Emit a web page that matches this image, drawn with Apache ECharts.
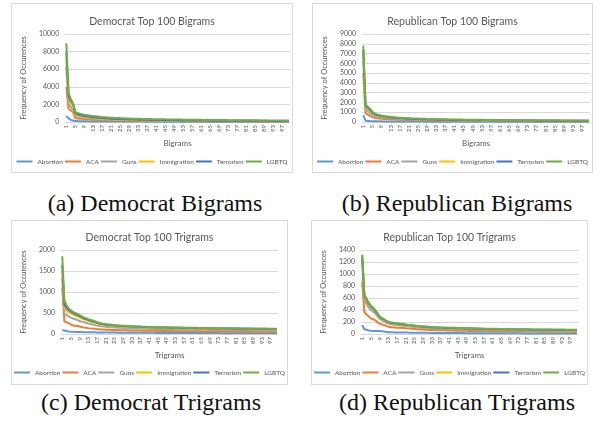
<!DOCTYPE html>
<html>
<head>
<meta charset="utf-8">
<script src="https://cdn.jsdelivr.net/npm/echarts@6/dist/echarts.min.js"></script>
<style>
  html, body { margin: 0; padding: 0; background: #ffffff; }
  body { width: 603px; height: 432px; position: relative; overflow: hidden; }
  .box { position: absolute; box-sizing: border-box; border: 1px solid #D9D9D9; background: #fff; }
  .cap { position: absolute; font-family: "Liberation Serif", "DejaVu Serif", serif; font-size: 24px; color: #111; text-align: center; white-space: nowrap; line-height: 1; }
</style>
</head>
<body>
<div id="ca" class="box" style="left:11px;top:3px;width:282px;height:170px;"></div>
<div id="cb" class="box" style="left:312px;top:3px;width:281px;height:170px;"></div>
<div id="cc" class="box" style="left:11px;top:220px;width:277px;height:165px;"></div>
<div id="cd" class="box" style="left:311px;top:220px;width:277px;height:165px;"></div>
<div class="cap" style="left:0px;width:310px;top:191px;">(a) Democrat Bigrams</div>
<div class="cap" style="left:302px;width:310px;top:191px;">(b) Republican Bigrams</div>
<div class="cap" style="left:0px;width:302px;top:390px;">(c) Democrat Trigrams</div>
<div class="cap" style="left:302px;width:310px;top:390px;">(d) Republican Trigrams</div>
<script>
// ---------- DATA ----------
const ranks = ['1','2','3','4','5','6','7','8','9','10','11','12','13','14','15','16','17','18','19','20',
'21','22','23','24','25','26','27','28','29','30','31','32','33','34','35','36','37','38','39','40',
'41','42','43','44','45','46','47','48','49','50','51','52','53','54','55','56','57','58','59','60',
'61','62','63','64','65','66','67','68','69','70','71','72','73','74','75','76','77','78','79','80',
'81','82','83','84','85','86','87','88','89','90','91','92','93','94','95','96','97','98','99','100'];
const topics = ['Abortion','ACA','Guns','Immigration','Terrorism','LGBTQ'];

// (a) Democrat bigrams
const demBiAbortion = [700,420,220,160,120,100,90,85,80,75,72,70,68,66,64,62,60,58,57,56,55,54,53,52,51,50,49,48,47,46,45,44,44,43,43,42,42,41,41,40,40,39,39,38,38,37,37,36,36,35,35,35,34,34,34,33,33,33,32,32,32,31,31,31,30,30,30,30,29,29,29,29,28,28,28,28,27,27,27,27,26,26,26,26,25,25,25,25,25,24,24,24,24,24,23,23,23,23,22,22];
const demBiACA = [4000,1500,1300,1100,450,400,380,360,340,320,300,280,265,250,240,230,220,210,200,195,190,185,180,175,170,165,160,156,152,148,145,142,139,136,133,130,128,126,124,122,120,118,116,114,112,110,108,106,105,104,103,102,101,100,99,98,97,96,95,94,93,92,91,90,89,88,87,86,85,84,84,83,82,81,80,80,79,78,77,77,76,75,75,74,73,73,72,71,71,70,70,69,69,68,68,67,67,66,66,65];
const demBiGuns = [6300,2000,1700,1400,700,620,560,520,490,460,430,410,390,370,350,335,320,305,295,285,275,265,258,250,243,236,230,224,218,212,207,202,198,194,190,186,182,178,175,172,169,166,163,160,157,154,152,150,148,146,144,142,140,138,136,134,132,130,129,128,127,126,125,124,123,122,121,120,119,118,117,116,115,114,113,112,111,110,109,108,107,106,105,104,103,102,101,100,99,98,97,96,95,94,93,92,91,90,89,88];
const demBiImmigration = [7200,2600,2100,1800,850,740,670,620,580,540,510,480,455,430,410,390,372,355,340,326,313,302,292,283,275,267,260,253,246,240,234,228,223,218,213,208,204,200,196,192,188,185,182,179,176,173,170,167,165,163,161,159,157,155,153,151,149,147,146,145,144,143,142,141,140,139,138,137,136,135,134,133,132,131,130,129,128,127,126,125,124,123,122,121,120,119,118,117,116,115,114,113,112,111,110,109,108,107,106,105];
const demBiTerrorism = [8000,2900,2400,2100,1000,880,800,740,690,650,610,580,550,520,495,470,450,430,412,396,381,367,354,342,331,321,311,302,294,286,279,272,265,259,253,247,242,237,232,227,222,218,214,210,206,202,198,195,192,189,186,183,180,177,175,173,171,169,167,165,163,161,159,157,155,153,151,150,149,148,147,146,145,144,143,142,141,140,139,138,137,136,135,134,133,132,131,130,129,128,127,126,125,124,123,122,121,120,119,118];
const demBiLGBTQ = [8950,3300,2600,2100,1150,1020,950,890,840,790,750,710,680,650,620,595,570,550,530,512,495,480,466,453,441,430,420,410,400,391,383,375,368,361,354,348,342,336,330,325,320,315,310,305,300,296,292,288,284,280,276,272,268,265,262,259,256,253,250,247,244,241,238,235,232,229,226,223,220,218,216,214,212,210,208,206,204,202,200,198,196,194,192,190,188,186,184,182,180,178,176,175,174,173,172,171,170,169,168,167];

// (b) Republican bigrams
const repBiAbortion = [700,150,110,95,85,78,72,68,64,61,58,56,54,52,50,49,48,47,46,45,44,43,42,41,40,40,39,38,38,37,37,36,36,35,35,34,34,33,33,33,32,32,32,31,31,31,30,30,30,29,29,29,29,28,28,28,28,27,27,27,27,26,26,26,26,25,25,25,25,25,24,24,24,24,24,23,23,23,23,23,22,22,22,22,22,21,21,21,21,21,20,20,20,20,20,19,19,19,19,19];
const repBiACA = [5000,900,750,620,500,430,390,360,335,315,298,283,270,258,247,237,228,220,212,205,198,192,186,181,176,171,167,163,159,155,152,149,146,143,140,137,135,133,131,129,127,125,123,121,119,117,115,113,112,111,110,109,108,107,106,105,104,103,102,101,100,99,98,97,96,95,94,93,92,91,90,89,88,87,86,86,85,84,83,83,82,81,81,80,79,79,78,77,77,76,76,75,75,74,74,73,73,72,72,71];
const repBiGuns = [6200,1300,1100,900,720,620,560,510,470,440,415,392,372,355,340,326,313,301,290,280,271,263,255,248,241,235,229,224,219,214,209,205,201,197,193,189,186,183,180,177,174,171,168,165,162,160,158,156,154,152,150,148,146,144,142,140,138,136,134,132,130,129,128,127,126,125,124,123,122,121,120,119,118,117,116,115,114,113,112,111,110,109,108,107,106,105,104,103,102,101,100,99,98,97,96,95,94,93,92,91];
const repBiImmigration = [7000,1600,1350,1150,900,760,680,620,570,530,495,465,440,418,398,380,364,350,337,325,314,304,295,286,278,270,263,256,250,244,238,233,228,223,218,214,210,206,202,198,195,192,189,186,183,180,177,175,173,171,169,167,165,163,161,159,157,155,153,151,150,149,148,147,146,145,144,143,142,141,140,139,138,137,136,135,134,133,132,131,130,129,128,127,126,125,124,123,122,121,120,119,118,117,116,115,114,113,112,111];
const repBiTerrorism = [7400,1700,1450,1250,950,800,710,650,600,560,525,495,468,445,424,405,388,372,358,345,333,322,312,303,294,286,278,271,264,258,252,246,241,236,231,226,222,218,214,210,206,203,200,197,194,191,188,185,182,180,178,176,174,172,170,168,166,164,162,160,158,156,154,153,152,151,150,149,148,147,146,145,144,143,142,141,140,139,138,137,136,135,134,133,132,131,130,129,128,127,126,125,124,123,122,121,120,119,118,117];
const repBiLGBTQ = [7800,1800,1550,1350,1050,880,780,710,660,620,585,555,528,504,482,462,444,428,413,400,388,377,367,357,348,340,332,325,318,311,305,299,293,288,283,278,273,268,264,260,256,252,248,245,242,239,236,233,230,227,224,221,218,215,212,210,208,206,204,202,200,198,196,194,192,190,188,186,185,184,183,182,181,180,179,178,177,176,175,174,173,172,171,170,169,168,167,166,165,164,163,162,161,160,159,158,157,156,155,154];

// (c) Democrat trigrams
const demTriAbortion = [90,85,70,60,55,52,50,48,46,45,44,43,42,41,40,39,38,37,36,36,35,35,34,34,33,33,32,32,31,31,30,30,30,29,29,29,28,28,28,27,27,27,27,26,26,26,26,25,25,25,25,24,24,24,24,24,23,23,23,23,23,22,22,22,22,22,22,21,21,21,21,21,21,20,20,20,20,20,20,20,19,19,19,19,19,19,19,18,18,18,18,18,18,18,17,17,17,17,17,17];
const demTriACA = [1100,300,280,260,230,200,195,190,180,165,155,148,140,134,128,123,118,114,110,107,104,101,99,97,95,93,91,90,89,88,87,86,85,84,83,82,81,80,79,78,77,76,75,75,74,73,72,72,71,70,70,69,68,68,67,67,66,66,65,65,64,64,63,63,62,62,61,61,60,60,60,59,59,58,58,58,57,57,57,56,56,56,55,55,55,54,54,54,53,53,53,52,52,52,51,51,51,50,50,50];
const demTriGuns = [1330,480,450,420,390,370,350,330,310,295,280,265,250,240,228,215,200,190,182,176,171,167,163,159,156,153,150,147,145,143,141,139,137,135,133,131,129,127,125,124,123,122,121,120,119,118,117,116,115,114,113,112,111,110,109,108,107,106,105,104,103,102,102,101,101,100,100,99,99,98,98,97,97,96,96,95,95,94,94,93,93,92,92,91,91,90,90,89,89,88,88,87,87,86,86,85,85,84,84,83];
const demTriImmigration = [1500,620,560,520,490,460,440,420,395,370,350,330,310,295,282,270,255,240,228,220,214,209,204,199,195,191,187,184,181,178,175,172,170,168,166,164,162,160,158,156,154,152,150,149,148,147,146,145,144,143,142,141,140,139,138,137,136,135,134,133,132,131,130,129,128,127,127,126,126,125,125,124,124,123,123,122,122,121,121,120,120,119,119,118,118,117,117,116,116,115,115,114,114,113,113,112,112,111,111,110];
const demTriTerrorism = [1650,700,620,570,530,500,475,450,425,400,375,355,335,318,302,288,270,255,242,233,226,220,215,210,205,201,197,193,190,187,184,181,178,176,174,172,170,168,166,164,162,160,158,157,156,155,154,153,152,151,150,149,148,147,146,145,144,143,142,141,140,139,138,137,136,135,134,133,133,132,132,131,131,130,130,129,129,128,128,127,127,126,126,125,125,124,124,123,123,122,122,121,121,120,120,119,119,118,118,117];
const demTriLGBTQ = [1850,800,680,610,560,530,500,480,450,420,395,375,355,338,322,305,285,268,255,245,237,230,224,218,213,208,204,200,197,194,191,188,185,183,181,179,177,175,173,171,169,167,166,165,164,163,162,161,160,159,158,157,156,155,154,153,152,151,150,149,148,147,146,145,144,143,142,141,141,140,140,139,139,138,138,137,137,136,136,135,135,134,134,133,133,132,132,131,131,130,130,129,129,128,128,127,127,126,126,125];

// (d) Republican trigrams
const repTriAbortion = [150,80,70,60,55,52,50,50,48,45,40,35,30,29,28,27,26,25,25,24,23,23,22,22,21,21,20,20,20,19,19,19,18,18,18,17,17,17,17,16,16,16,16,15,15,15,15,15,14,14,14,14,14,13,13,13,13,13,13,12,12,12,12,12,12,12,11,11,11,11,11,11,11,11,10,10,10,10,10,10,10,10,10,9,9,9,9,9,9,9,9,9,9,8,8,8,8,8,8,8];
const repTriACA = [870,360,330,290,260,245,230,200,170,160,150,135,122,118,114,110,106,103,100,98,96,93,90,87,84,81,78,76,74,72,70,68,67,66,65,64,63,62,61,60,59,58,57,56,55,55,54,53,53,52,52,51,51,50,50,49,49,48,48,47,47,46,46,45,45,45,44,44,44,43,43,43,42,42,42,41,41,41,40,40,40,40,39,39,39,38,38,38,38,37,37,37,37,36,36,36,36,35,35,35];
const repTriGuns = [1200,560,500,440,400,370,340,300,250,230,210,190,172,165,160,155,150,145,140,136,132,128,124,120,116,112,108,105,102,100,98,96,94,92,90,89,88,87,86,85,84,83,82,81,80,79,78,77,76,75,74,73,72,71,70,69,68,67,66,65,65,64,64,63,63,62,62,61,61,60,60,59,59,58,58,57,57,56,56,55,55,55,54,54,54,53,53,53,52,52,52,51,51,51,50,50,50,49,49,49];
const repTriImmigration = [1250,620,560,490,450,415,380,330,280,255,235,212,192,183,178,173,168,163,158,153,148,143,139,135,131,127,123,120,117,114,111,109,107,105,103,101,100,99,98,97,96,95,94,93,92,91,90,89,88,87,86,85,84,83,82,81,80,79,78,77,77,76,76,75,75,74,74,73,73,72,72,71,71,70,70,69,69,68,68,67,67,67,66,66,66,65,65,65,64,64,64,63,63,63,62,62,62,61,61,61];
const repTriTerrorism = [1290,635,575,505,460,425,390,340,288,262,242,218,198,189,183,178,173,168,163,158,153,148,144,140,136,132,128,125,122,119,116,114,112,110,108,106,104,103,102,101,100,99,98,97,96,95,94,93,92,91,90,89,88,87,86,85,84,83,82,81,81,80,80,79,79,78,78,77,77,76,76,75,75,74,74,73,73,72,72,71,71,71,70,70,70,69,69,69,68,68,68,67,67,67,66,66,66,65,65,65];
const repTriLGBTQ = [1320,650,590,520,475,440,400,350,295,270,250,225,205,196,190,185,180,175,170,165,160,155,150,146,142,138,134,131,128,125,122,120,118,116,114,112,110,109,108,107,106,105,104,103,102,101,100,99,98,97,96,95,94,93,92,91,90,89,88,87,87,86,86,85,85,84,84,83,83,82,82,81,81,80,80,79,79,78,78,77,77,77,76,76,76,75,75,75,74,74,74,73,73,73,72,72,72,71,71,71];

// ---------- STYLE / LAYOUT ----------
const colors = ['#5B9BD5','#ED7D31','#A5A5A5','#FFC000','#4472C4','#70AD47'];
const FONT = 'Lato, "Liberation Sans", sans-serif';
const TXT = '#595959';

function build(id, cfg) {
  const chart = echarts.init(document.getElementById(id), null, {renderer: 'canvas'});
  const series = cfg.data.map((d, i) => ({
    name: topics[i], type: 'line', data: d, symbol: 'none', showSymbol: false,
    lineStyle: {width: 2, color: colors[i]}, itemStyle: {color: colors[i]},
    emphasis: {disabled: true}, z: 2 + i
  }));
  chart.setOption({
    animation: false,
    color: colors,
    textStyle: {fontFamily: FONT},
    title: {
      text: cfg.title, left: 'center', top: cfg.titleTop,
      textStyle: {fontFamily: FONT, fontSize: 10.5, fontWeight: 'normal', color: TXT}
    },
    legend: {
      data: topics, bottom: cfg.legendBottom, left: 'center', width: 320, padding: 0,
      icon: 'rect', itemWidth: 16, itemHeight: 2, itemGap: 2,
      textStyle: {fontFamily: FONT, fontSize: 6.5, color: TXT}
    },
    grid: {left: cfg.grid[0], right: cfg.grid[1], top: cfg.grid[2], bottom: cfg.grid[3], containLabel: false},
    xAxis: {
      type: 'category', data: ranks, boundaryGap: true,
      name: cfg.xName, nameLocation: 'middle', nameGap: cfg.xNameGap,
      nameTextStyle: {fontFamily: FONT, fontSize: 8, color: TXT},
      axisLine: {lineStyle: {color: '#D9D9D9', width: 1}},
      axisTick: {show: false},
      axisLabel: {interval: 3, rotate: 90, fontSize: 6, color: TXT, fontFamily: FONT, margin: 3}
    },
    yAxis: {
      type: 'value', min: 0, max: cfg.yMax, interval: cfg.yInt,
      name: 'Frequency of Occurences', nameLocation: 'middle', nameRotate: 90, nameGap: cfg.yNameGap,
      nameTextStyle: {fontFamily: FONT, fontSize: 7.5, color: TXT},
      axisLine: {show: false}, axisTick: {show: false},
      axisLabel: {fontSize: 7, color: TXT, fontFamily: FONT, margin: 6, formatter: v => String(v)},
      splitLine: {lineStyle: {color: '#D9D9D9', width: 1}}
    },
    series: series
  });
}

build('ca', {
  title: 'Democrat Top 100 Bigrams', titleTop: 7,
  data: [demBiAbortion, demBiACA, demBiGuns, demBiImmigration, demBiTerrorism, demBiLGBTQ],
  grid: [45, 2, 30, 50], yMax: 10000, yInt: 2000, xName: 'Bigrams', xNameGap: 16, yNameGap: 29, legendBottom: 7
});
build('cb', {
  title: 'Republican Top 100 Bigrams', titleTop: 7,
  data: [repBiAbortion, repBiACA, repBiGuns, repBiImmigration, repBiTerrorism, repBiLGBTQ],
  grid: [42, 2, 30, 50], yMax: 9000, yInt: 1000, xName: 'Bigrams', xNameGap: 16, yNameGap: 25, legendBottom: 7
});
build('cc', {
  title: 'Democrat Top 100 Trigrams', titleTop: 6,
  data: [demTriAbortion, demTriACA, demTriGuns, demTriImmigration, demTriTerrorism, demTriLGBTQ],
  grid: [40, 9, 29, 50], yMax: 2000, yInt: 500, xName: 'Trigrams', xNameGap: 15, yNameGap: 25, legendBottom: 8
});
build('cd', {
  title: 'Republican Top 100 Trigrams', titleTop: 6,
  data: [repTriAbortion, repTriACA, repTriGuns, repTriImmigration, repTriTerrorism, repTriLGBTQ],
  grid: [40, 9, 29, 50], yMax: 1400, yInt: 200, xName: 'Trigrams', xNameGap: 15, yNameGap: 25, legendBottom: 8
});
</script>
</body>
</html>
